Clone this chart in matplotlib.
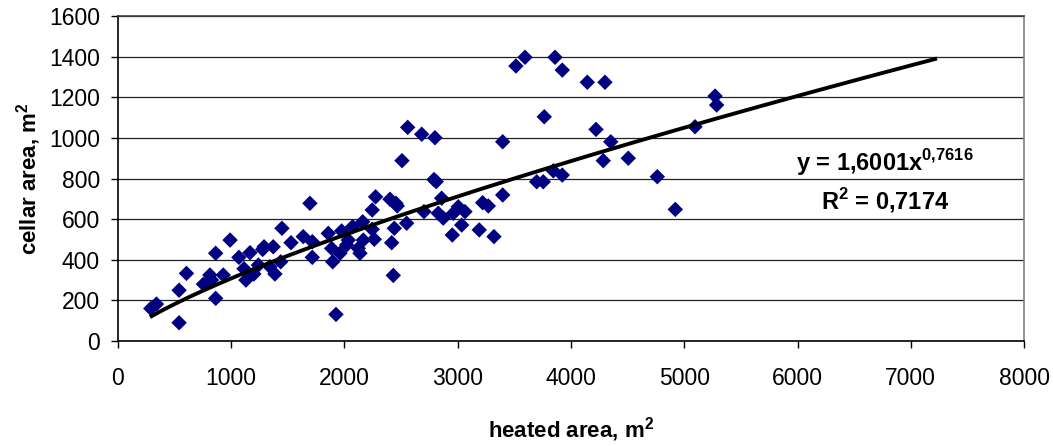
import numpy as np
import matplotlib.pyplot as plt

plt.rcParams["font.family"] = ["Liberation Sans", "DejaVu Sans"]
plt.rcParams["mathtext.fontset"] = "custom"
plt.rcParams["mathtext.rm"] = "Liberation Sans"
plt.rcParams["mathtext.bf"] = "Liberation Sans:bold"

# heated area (m2) and cellar area (m2)
heated = [290, 340, 540, 540, 605, 755, 812, 827, 863, 863,
          930, 990, 1068, 1113, 1130, 1166, 1200, 1240, 1278, 1290,
          1342, 1371, 1386, 1437, 1448, 1528, 1636, 1695, 1716, 1716,
          1857, 1887, 1896, 1925, 1960, 1975, 2019, 2034, 2072, 2122,
          2137, 2161, 2166, 2245, 2245, 2263, 2275, 2402, 2417, 2431,
          2440, 2455, 2466, 2508, 2549, 2558, 2682, 2702, 2799, 2790,
          2810, 2858, 2828, 2872, 2952, 2961, 3005, 3035, 3064, 3190,
          3220, 3270, 3320, 3397, 3397, 3514, 3594, 3697, 3755, 3764,
          3844, 3859, 3923, 3923, 4144, 4221, 4285, 4300, 4351, 4506,
          4762, 4921, 5095, 5272, 5286]
cellar = [160, 182, 90, 250, 333, 280, 325, 300, 432, 210,
          325, 497, 412, 356, 300, 435, 330, 374, 451, 464,
          366, 464, 330, 390, 555, 484, 514, 678, 489, 412,
          530, 456, 390, 131, 432, 542, 473, 497, 563, 456,
          432, 587, 497, 645, 550, 501, 710, 698, 484, 323,
          555, 678, 665, 888, 580, 1052, 1018, 637, 1001, 795,
          785, 703, 629, 605, 522, 629, 661, 571, 637, 547,
          681, 665, 514, 719, 981, 1354, 1397, 784, 784, 1104,
          838, 1397, 1334, 817, 1274, 1042, 888, 1274, 981, 900,
          809, 648, 1055, 1206, 1162]

# power trendline reported on the chart: y = a * x^b
fit_a = 1.6001
fit_b = 0.7616
fit_r2 = 0.7174
fit_range = [283, 7232]

x_ticks = [0, 1000, 2000, 3000, 4000, 5000, 6000, 7000, 8000]
y_ticks = [0, 200, 400, 600, 800, 1000, 1200, 1400, 1600]


def comma(v, math=False):
    return f"{v:.4f}".replace(".", "{,}" if math else ",")


fig = plt.figure(figsize=(10.53, 4.46), dpi=100)
ax = fig.add_axes([0.112, 0.2354, 0.8605, 0.7286])

ax.scatter(heated, cellar, marker="D", s=62, color="#000080",
           edgecolors="none", zorder=3)

xf = np.linspace(fit_range[0], fit_range[1], 200)
ax.plot(xf, fit_a * xf ** fit_b, color="black", lw=2.8, zorder=4,
        solid_capstyle="butt")

ax.set_xlim(0, 8000)
ax.set_ylim(0, 1600)
ax.set_xticks(x_ticks)
ax.set_yticks(y_ticks)
ax.tick_params(labelsize=16.5, direction="out", length=5, width=1)
ax.tick_params(axis="x", pad=14)
ax.tick_params(axis="y", pad=8)
ax.yaxis.grid(True, color="#222222", lw=0.9)
ax.set_axisbelow(True)
for s in ax.spines.values():
    s.set_linewidth(1.2)
    s.set_color("black")
ax.spines["right"].set_color("#808080")
ax.spines["top"].set_color("#404040")

ax.set_xlabel("heated area, m$^\\mathbf{2}$", fontsize=16, fontweight="bold",
              labelpad=18)
ax.set_ylabel("cellar area, m$^\\mathbf{2}$", fontsize=16, fontweight="bold",
              labelpad=4)

ax.text(6775, 881, f"y = {comma(fit_a)}x" + "$^\\mathbf{" + comma(fit_b, True) + "}$",
        fontsize=17, fontweight="bold", ha="center", va="center", zorder=5)
ax.text(6775, 690, "R$^\\mathbf{2}$ = " + comma(fit_r2),
        fontsize=17, fontweight="bold", ha="center", va="center", zorder=5)

plt.savefig("out.png", dpi=100)
plt.close()
